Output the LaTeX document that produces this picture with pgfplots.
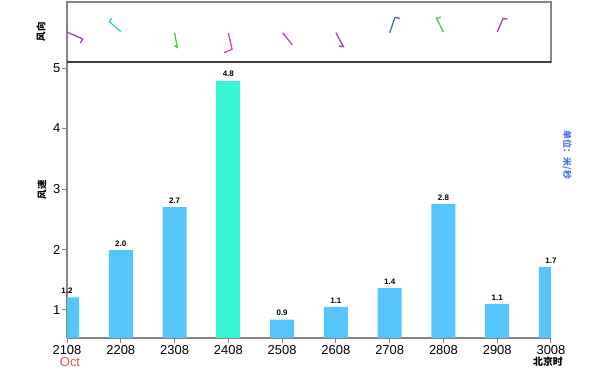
\documentclass[border=0pt]{standalone}
\usepackage{pgfplots}
\pgfplotsset{compat=1.18}
\usepackage{pgfplotstable}
\usepackage{fontspec}
\setmainfont{Liberation Sans}
\newfontfamily\cjk{Noto Sans CJK SC}
\definecolor{axgray}{HTML}{858585}
\definecolor{barblue}{HTML}{55C6FA}
\definecolor{barhi}{HTML}{38F5D6}
\definecolor{cpurple}{HTML}{9B3FCF}
\definecolor{ccyan}{HTML}{3CC9CC}
\definecolor{cgreen}{HTML}{44C944}
\definecolor{cmag}{HTML}{E03FA6}
\definecolor{cviolet}{HTML}{B845D6}
\definecolor{cblue}{HTML}{4466DD}
\definecolor{unitblue}{HTML}{4F72E3}
\definecolor{octred}{HTML}{E05858}
\pgfplotstableread{
x y lab
0 1.21 1.2
1 1.99 2.0
2 2.70 2.7
4 0.84 0.9
5 1.05 1.1
6 1.36 1.4
7 2.75 2.8
8 1.10 1.1
9 1.71 1.7
}\speeddata
\pgfplotstableread{
x y lab
3 4.79 4.8
}\speedmax
\begin{document}
\begin{tikzpicture}
\path (0,0) rectangle (609bp,372bp);
\begin{axis}[
  at={(67bp,34bp)}, anchor=south west,
  width=484bp, height=276bp, scale only axis,
  xmin=0, xmax=9, ymin=0.537, ymax=5.1,
  axis x line*=bottom, axis y line*=left,
  axis line style={-, draw=axgray, line width=1.2bp},
  tick align=outside,
  major tick length=5bp,
  major tick style={draw=axgray, line width=1bp},
  xtick={0,...,9},
  xticklabels={2108,2208,2308,2408,2508,2608,2708,2808,2908,3008},
  ytick={1,2,3,4,5},
  /pgf/number format/assume math mode=true,
  ticklabel style={font=\fontsize{13}{13}\selectfont},
  xticklabel style={inner sep=0pt, yshift=-2bp},
  yticklabel style={inner sep=0pt, xshift=-1.5bp},
  ybar, bar width=24bp,
  point meta=explicit symbolic,
  nodes near coords,
  every node near coord/.append style={font=\bfseries\fontsize{8}{8}\selectfont, inner sep=0pt, yshift=3.5bp, text=black},
]
\addplot[fill=barblue, draw=none, bar shift=0pt] table[x=x, y=y, meta=lab] {\speeddata};
\addplot[fill=barhi, draw=none, bar shift=0pt] table[x=x, y=y, meta=lab] {\speedmax};
\end{axis}
\begin{axis}[
  at={(67bp,310bp)}, anchor=south west,
  width=484bp, height=60bp, scale only axis,
  xmin=0, xmax=9, ymin=0, ymax=60,
  axis line style={draw=axgray, line width=1.2bp},
  xtick=\empty, ytick=\empty,
  clip=false,
]
\addplot[cpurple, line width=1.3bp] coordinates {(0.0,30) (0.29,23) (0.25,19)};
\addplot[ccyan, line width=1.3bp] coordinates {(1.0,30.3) (0.787,40.3) (0.83,43.8)};
\addplot[cgreen, line width=1.3bp] coordinates {(2.0,29.3) (2.05,14.7) (2.0,16.5)};
\addplot[cmag, line width=1.3bp] coordinates {(3.0,29) (3.07,12.7) (2.92,9.3)};
\addplot[cviolet, line width=1.3bp] coordinates {(4.01,29.3) (4.19,17)};
\addplot[cpurple, line width=1.3bp] coordinates {(5.0,29.3) (5.14,15.3) (5.06,16)};
\addplot[cblue, line width=1.3bp] coordinates {(6.0,29.3) (6.10,44.7) (6.19,43.5)};
\addplot[cgreen, line width=1.3bp] coordinates {(7.0,30) (6.87,43.7) (6.95,45)};
\addplot[cpurple, line width=1.3bp] coordinates {(8.0,30) (8.11,43.7) (8.19,42.7)};
\end{axis}
\draw[color=black!75, line width=1.3bp] (67bp,310bp) -- (551bp,310bp);
\node[rotate=90, font=\cjk\bfseries\fontsize{9.5}{9.5}\selectfont] at (41bp,340bp) {风向};
\node[rotate=90, font=\cjk\bfseries\fontsize{9.5}{9.5}\selectfont] at (42bp,182bp) {风速};
\node[rotate=-90, text=unitblue, font=\cjk\bfseries\fontsize{9}{9}\selectfont] at (567bp,217bp) {单位：米/秒};
\node[text=octred, inner sep=0pt, font=\fontsize{13}{13}\selectfont] at (70bp,10bp) {Oct};
\node[inner sep=0pt, font=\cjk\bfseries\fontsize{10}{10}\selectfont] at (548bp,10bp) {北京时};
\end{tikzpicture}
\end{document}
